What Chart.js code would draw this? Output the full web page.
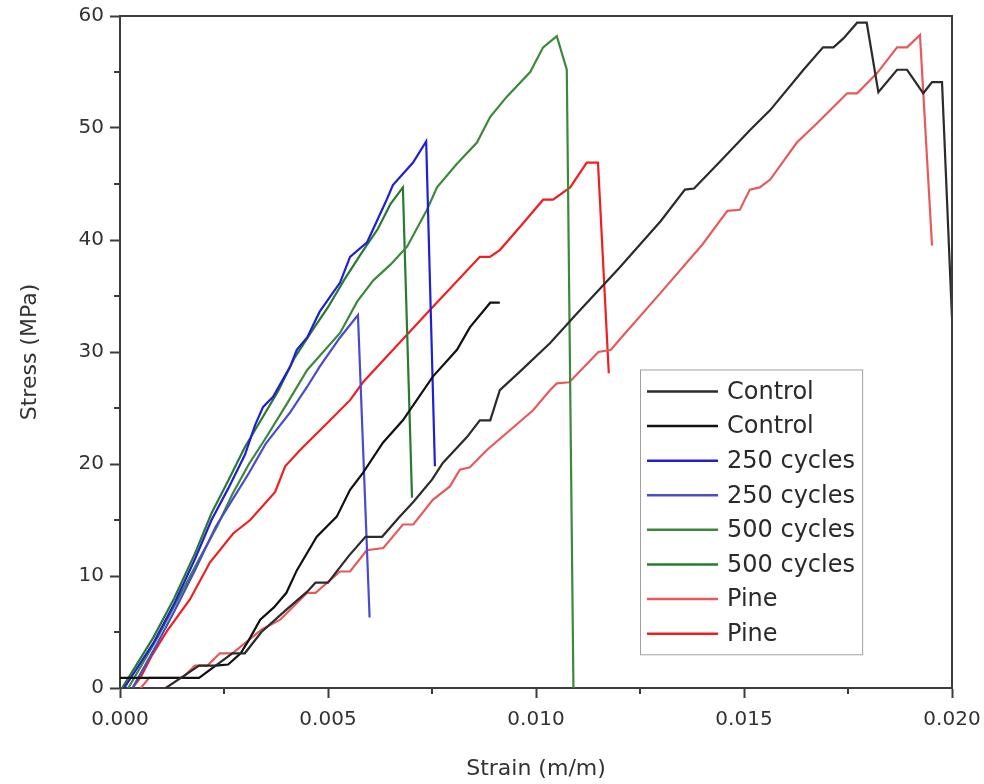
<!DOCTYPE html>
<html><head><meta charset="utf-8">
<script src="https://cdn.jsdelivr.net/npm/chart.js@4.4.1/dist/chart.umd.min.js"></script>
<style>html,body{margin:0;padding:0;background:#fff;}canvas{display:block}</style>
</head><body>
<canvas id="c" width="984" height="784"></canvas>
<script>
// ---- data (strain in m/m, stress in MPa) ----
const controlAStrain = [0.0011,0.0015,0.0019,0.0023,0.0027,0.0030,0.0034,0.0040,0.0045,0.0047,0.0050,0.0055,0.0059,0.0063,0.0067,0.00705,0.0075,0.00776,0.00834,0.00865,0.0089,0.00913,0.0096,0.01034,0.0110,0.0120,0.0130,0.01358,0.0138,0.0145,0.01514,0.01563,0.01643,0.0169,0.01715,0.01739,0.01772,0.01795,0.01823,0.01868,0.01892,0.01931,0.01952,0.01976,0.0200];
const controlAStress = [0,1,2,2,3.1,3.1,5,7,8.6,9.4,9.4,11.8,13.5,13.5,15.2,16.6,18.6,20.1,22.4,23.9,23.9,26.6,28.2,30.8,33.5,37.5,41.7,44.5,44.6,47.3,49.8,51.6,55.2,57.2,57.2,58,59.4,59.4,53.2,55.2,55.2,53.1,54.1,54.1,33];
const controlBStrain = [0,0.0019,0.0023,0.0026,0.0029,0.0031,0.00337,0.0037,0.0040,0.00425,0.00473,0.00521,0.00553,0.00584,0.00632,0.0068,0.00752,0.0081,0.00841,0.0089,0.00913];
const controlBStress = [0.9,0.9,2,2.1,3.1,4.3,6.1,7.2,8.5,10.5,13.5,15.3,17.7,19.2,21.9,23.9,27.8,30.2,32.2,34.4,34.4];
const cyc250AStrain = [0.0001,0.0008,0.0013,0.0018,0.0022,0.0026,0.0030,0.00325,0.00344,0.00368,0.00409,0.00425,0.0045,0.0048,0.00529,0.00553,0.00594,0.00641,0.00656,0.00704,0.00736,0.00757];
const cyc250AStress = [0,4,7.5,11.5,15,17.8,20.8,23.5,25.1,26,28.7,30.2,31.3,33.6,36.2,38.5,39.8,43.6,44.9,46.9,48.8,19.8];
const cyc250BStrain = [0.0003,0.0009,0.0013,0.0018,0.0023,0.0027,0.0031,0.0035,0.00409,0.0045,0.0048,0.00529,0.00572,0.0060];
const cyc250BStress = [0,4,6.8,10.5,14.4,16.8,19.2,21.8,24.6,26.9,28.7,31.3,33.3,6.3];
const cyc500AStrain = [0.0002,0.0009,0.0014,0.0019,0.00233,0.0027,0.0031,0.0035,0.0040,0.0045,0.00529,0.0057,0.00609,0.0065,0.0069,0.00738,0.00762,0.0081,0.00858,0.0089,0.0093,0.00986,0.01017,0.0105,0.01074,0.0109];
const cyc500AStress = [0,4.5,8,11.5,14.4,17.3,20,22.3,25.3,28.4,31.7,34.5,36.4,37.8,39.4,42.7,44.7,46.8,48.7,51,52.8,55,57.2,58.2,55.2,0];
const cyc500BStrain = [0.00005,0.0008,0.0013,0.0018,0.0022,0.0026,0.0030,0.0034,0.0038,0.0042,0.0046,0.0050,0.0054,0.0058,0.0062,0.0065,0.0068,0.00702];
const cyc500BStress = [0,4.5,8,12,15.6,18.5,21.5,24,26.5,29.5,31.8,34,36.5,38.8,41,43.2,44.7,17];
const pineAStrain = [0.0003,0.0005,0.00075,0.00115,0.00168,0.00216,0.00272,0.00313,0.00373,0.00397,0.00433,0.00505,0.00553,0.00584,0.00745,0.00865,0.00889,0.00913,0.00969,0.01017,0.01041,0.01082,0.01122,0.01149,0.01175];
const pineAStress = [0,1,2.8,5.2,7.9,11.2,13.8,15,17.5,19.8,21.25,23.9,25.7,27.3,33.75,38.5,38.5,39.1,41.5,43.6,43.6,44.7,46.9,46.9,28.1];
const pineBStrain = [0.0005,0.0007,0.0015,0.0018,0.0021,0.0024,0.0027,0.0031,0.0034,0.00385,0.0045,0.0047,0.00529,0.00553,0.00593,0.00633,0.0068,0.00705,0.00752,0.00793,0.00817,0.00841,0.00882,0.00993,0.01034,0.0105,0.0108,0.0115,0.0118,0.0121,0.0130,0.0140,0.0146,0.0149,0.01514,0.01538,0.01563,0.01627,0.01675,0.01748,0.01772,0.0182,0.01868,0.01892,0.01923,0.01952];
const pineBStress = [0,0.9,0.9,2,2,3.1,3.1,4.3,5.2,6.1,8.5,8.5,10.4,10.4,12.3,12.5,14.6,14.6,16.8,18,19.5,19.7,21.25,24.8,26.6,27.2,27.3,30,30.2,31.5,35.3,39.6,42.6,42.7,44.5,44.7,45.4,48.7,50.4,53.1,53.1,54.9,57.2,57.2,58.3,39.5];

const seriesLabels = ['Control','Control','250 cycles','250 cycles','500 cycles','500 cycles','Pine','Pine'];
const seriesColors = ['#2b2b2b','#111111','#1f1fd8','#4a4ad0','#3a8a3a','#2a7a30','#e85a5a','#f21e1e'];
const seriesX = [controlAStrain,controlBStrain,cyc250AStrain,cyc250BStrain,cyc500AStrain,cyc500BStrain,pineBStrain,pineAStrain];
const seriesY = [controlAStress,controlBStress,cyc250AStress,cyc250BStress,cyc500AStress,cyc500BStress,pineBStress,pineAStress];

const xMin = 0, xMax = 0.02, xStep = 0.0025, xMajor = 0.005;
const yMin = 0, yMax = 60, yStep = 5, yMajor = 10;

const datasets = seriesLabels.map((lab,i)=>({
  label: lab,
  data: seriesX[i].map((x,j)=>({x:x, y:seriesY[i][j]})),
  borderColor: seriesColors[i],
  backgroundColor: seriesColors[i],
  borderWidth: 2.2,
  pointRadius: 0,
  showLine: true,
  tension: 0,
  fill: false
}));

const isMajor = (v, m) => Math.abs(v/m - Math.round(v/m)) < 1e-6;
const AX = '#3c3c3c';
const FONT = "'DejaVu Sans', sans-serif";

const framePlugin = {
  id:'frame',
  afterDraw(chart){
    const {ctx, chartArea:a} = chart;
    ctx.save();
    ctx.strokeStyle = AX; ctx.lineWidth = 2;
    ctx.beginPath();
    ctx.moveTo(a.left, a.top); ctx.lineTo(a.right, a.top); ctx.lineTo(a.right, a.bottom);
    ctx.stroke();
    const xs = chart.scales.x, ys = chart.scales.y;
    xs.ticks.forEach(t=>{ if(!isMajor(t.value,xMajor)){ const p = xs.getPixelForValue(t.value); ctx.beginPath(); ctx.moveTo(p,a.bottom); ctx.lineTo(p,a.bottom+6); ctx.stroke(); }});
    ys.ticks.forEach(t=>{ if(!isMajor(t.value,yMajor)){ const p = ys.getPixelForValue(t.value); ctx.beginPath(); ctx.moveTo(a.left,p); ctx.lineTo(a.left-6,p); ctx.stroke(); }});
    ctx.restore();
  }
};

const legendPlugin = {
  id:'boxLegend',
  afterDraw(chart){
    const {ctx, chartArea:a} = chart;
    const W = a.right - a.left, H = a.bottom - a.top;
    const x0 = a.left + W*0.625, y0 = a.top + H*0.526;
    const w = W*0.267, rowH = 34.6, h = rowH*seriesLabels.length + 8;
    ctx.save();
    ctx.fillStyle = '#fff';
    ctx.fillRect(x0, y0, w, h);
    ctx.strokeStyle = '#a0a0a0'; ctx.lineWidth = 1;
    ctx.strokeRect(x0+0.5, y0+0.5, w, h);
    ctx.font = "24px " + FONT;
    ctx.textBaseline = 'middle';
    chart.data.datasets.forEach((ds,i)=>{
      const cy = y0 + 22 + i*rowH;
      ctx.strokeStyle = ds.borderColor; ctx.lineWidth = 2.5;
      ctx.beginPath(); ctx.moveTo(x0+7, cy); ctx.lineTo(x0+78, cy); ctx.stroke();
      ctx.fillStyle = '#2a2a2a';
      ctx.fillText(ds.label, x0+87, cy+1);
    });
    ctx.restore();
  }
};

new Chart(document.getElementById('c'), {
  type: 'scatter',
  data: { datasets },
  options: {
    responsive: false,
    animation: false,
    layout: { padding: { left: 0, right: 32, top: 16, bottom: 0 } },
    plugins: { legend: { display: false }, tooltip: { enabled: false } },
    scales: {
      x: {
        type: 'linear', min: xMin, max: xMax,
        afterFit: s => { s.height = 96; s.paddingLeft = 0; s.paddingRight = 0; },
        border: { display: true, color: AX, width: 2 },
        grid: { drawOnChartArea: false, drawTicks: true, tickLength: 10, tickWidth: 2,
                tickColor: c => isMajor(c.tick.value, xMajor) ? AX : 'rgba(0,0,0,0)' },
        ticks: { stepSize: xStep, autoSkip: false, maxRotation: 0, padding: 10, color: '#333',
                 font: { family: FONT, size: 20 },
                 callback: v => isMajor(v, xMajor) ? v.toFixed(3) : '' },
        title: { display: true, text: 'Strain (m/m)', color: '#333', font: { family: FONT, size: 22 }, padding: { top: 0, bottom: 2 } }
      },
      y: {
        type: 'linear', min: yMin, max: yMax,
        afterFit: s => { s.width = 120; s.paddingTop = 0; s.paddingBottom = 0; },
        border: { display: true, color: AX, width: 2 },
        grid: { drawOnChartArea: false, drawTicks: true, tickLength: 10, tickWidth: 2,
                tickColor: c => isMajor(c.tick.value, yMajor) ? AX : 'rgba(0,0,0,0)' },
        ticks: { stepSize: yStep, autoSkip: false, padding: 6, color: '#333',
                 font: { family: FONT, size: 20 },
                 callback: v => isMajor(v, yMajor) ? String(v) : '' },
        title: { display: true, text: 'Stress (MPa)', color: '#333', font: { family: FONT, size: 22 }, padding: { top: 17, bottom: 0 } }
      }
    }
  },
  plugins: [framePlugin, legendPlugin]
});
</script>
</body></html>
